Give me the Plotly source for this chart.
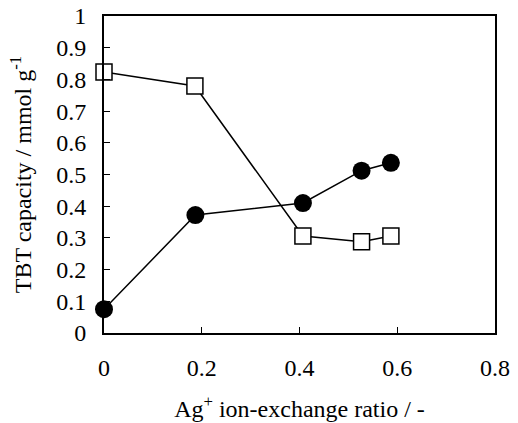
import plotly.graph_objects as go

ratio_circle = [0.0, 0.187, 0.407, 0.527, 0.587]
tbt_circle = [0.075, 0.372, 0.41, 0.512, 0.537]
ratio_square = [0.0, 0.186, 0.407, 0.527, 0.587]
tbt_square = [0.823, 0.779, 0.306, 0.288, 0.306]

x_ticks = [0, 0.2, 0.4, 0.6, 0.8]
y_ticks = [0, 0.1, 0.2, 0.3, 0.4, 0.5, 0.6, 0.7, 0.8, 0.9, 1]

font_family = "Liberation Serif, Times New Roman, serif"

fig = go.Figure()
fig.add_trace(go.Scatter(
    x=ratio_square, y=tbt_square, mode="lines+markers",
    line=dict(color="black", width=1.5),
    marker=dict(symbol="square", size=16, color="white", line=dict(color="black", width=1.5)),
    cliponaxis=False, showlegend=False))
fig.add_trace(go.Scatter(
    x=ratio_circle, y=tbt_circle, mode="lines+markers",
    line=dict(color="black", width=1.5),
    marker=dict(symbol="circle", size=18, color="black"),
    cliponaxis=False, showlegend=False))

fig.update_layout(
    width=518, height=423,
    margin=dict(l=104, r=23, t=16, b=90),
    paper_bgcolor="white", plot_bgcolor="white",
    font=dict(family=font_family, size=22, color="black"),
    xaxis=dict(
        range=[0, 0.8], tickvals=x_ticks, ticktext=[f"{v:g}" for v in x_ticks],
        ticks="inside", ticklen=6, tickwidth=1, tickcolor="black",
        tickfont=dict(size=24), ticklabelstandoff=12, automargin=False,
        showline=True, linecolor="black", linewidth=2, mirror=True,
        showgrid=False, zeroline=False,
        title=dict(text="Ag<sup>+</sup> ion-exchange ratio / -", standoff=20,
                   font=dict(size=24)),
    ),
    yaxis=dict(
        range=[0, 1], tickvals=y_ticks, ticktext=[f"{v:g}" for v in y_ticks],
        ticks="inside", ticklen=6, tickwidth=1, tickcolor="black",
        tickfont=dict(size=24), ticklabelstandoff=11, automargin=False,
        showline=True, linecolor="black", linewidth=2, mirror=True,
        showgrid=False, zeroline=False,
        title=dict(text="TBT capacity / mmol g<sup>-1</sup>", standoff=18,
                   font=dict(size=24)),
    ),
)

fig.write_html("out.html")
